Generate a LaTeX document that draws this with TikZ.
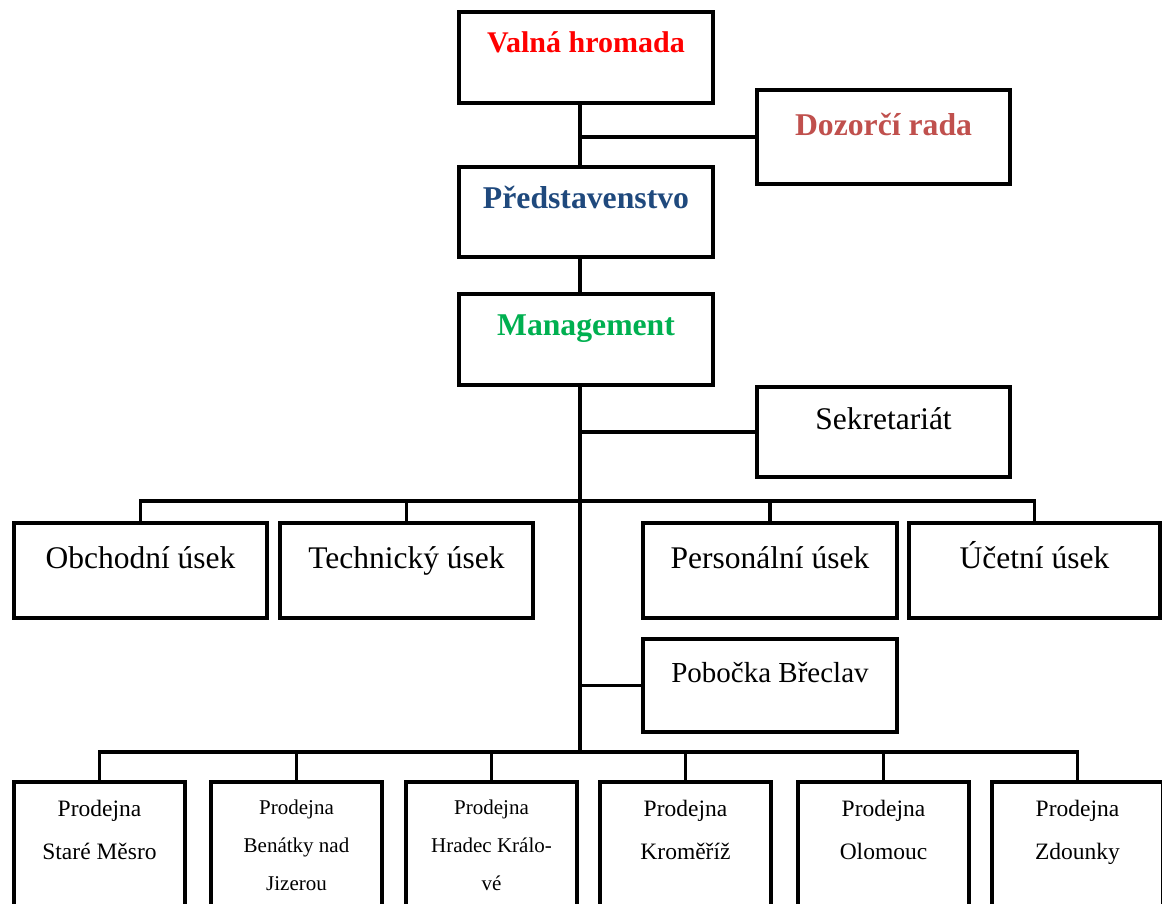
\documentclass[tikz,border=0pt]{standalone}
\usepackage{fontspec}
\setmainfont{Liberation Serif}
\definecolor{vhred}{HTML}{FF0000}
\definecolor{dzred}{HTML}{C0504D}
\definecolor{pblue}{HTML}{1F497D}
\definecolor{mgreen}{HTML}{00B050}
\begin{document}
\begin{tikzpicture}[x=1pt,y=-1pt,
  box/.style={draw, line width=4pt, rectangle, anchor=north west, inner xsep=0pt, inner ysep=0pt, align=center},
  conn/.style={line width=3.5pt},
  big/.style={font=\fontsize{31.5}{36}\selectfont},
  mid/.style={font=\fontsize{29}{34}\selectfont},
  bigb/.style={font=\fontsize{31.7}{36}\selectfont\bfseries},
  vhb/.style={font=\fontsize{30}{34}\selectfont\bfseries},
  shopa/.style={font=\fontsize{23.5}{43}\selectfont, text height=77pt, text depth=73pt},
  shopb/.style={font=\fontsize{21}{38}\selectfont, text height=108pt, text depth=42pt},
  shop/.style={box, minimum width=171pt, minimum height=150pt},
]
\clip (0,0) rectangle (1162,903);
\fill[white] (0,0) rectangle (1162,903);

% top
\node[box, vhb, text=vhred, minimum width=254pt, minimum height=91pt, text height=40pt, text depth=51pt] (vh) at (457,10) {Valná hromada};
\node[box, bigb, text=dzred, minimum width=253pt, minimum height=94pt, text height=45pt, text depth=49pt] (dz) at (755,88) {Dozorčí rada};
\node[box, bigb, text=pblue, minimum width=254pt, minimum height=90pt, text height=41pt, text depth=49pt] (pred) at (457,165) {Představenstvo};
\node[box, bigb, text=mgreen, minimum width=254pt, minimum height=91pt, text height=41pt, text depth=50pt] (mg) at (457,292) {Management};
\node[box, big, minimum width=253pt, minimum height=90pt, text height=42pt, text depth=48pt] (sek) at (755,385) {Sekretariát};

% departments
\node[box, big, minimum width=253pt, minimum height=95pt, text height=45pt, text depth=50pt] (ob) at (12,521) {Obchodní úsek};
\node[box, big, minimum width=253pt, minimum height=95pt, text height=45pt, text depth=50pt] (te) at (278,521) {Technický úsek};
\node[box, big, minimum width=254pt, minimum height=95pt, text height=45pt, text depth=50pt] (pe) at (641,521) {Personální úsek};
\node[box, big, minimum width=251pt, minimum height=95pt, text height=45pt, text depth=50pt] (uc) at (907,521) {Účetní úsek};
\node[box, mid, minimum width=254pt, minimum height=93pt, text height=43pt, text depth=50pt] (po) at (641,637) {Pobočka Břeclav};

% shops
\node[shop, shopa] (p1) at (12,780) {Prodejna\\Staré Měsro};
\node[shop, shopb] (p2) at (209,780) {Prodejna\\Benátky nad\\Jizerou};
\node[shop, shopb] (p3) at (404,780) {Prodejna\\Hradec Králo-\\vé};
\node[shop, shopa] (p4) at (598,780) {Prodejna\\Kroměříž};
\node[shop, shopa] (p5) at (796,780) {Prodejna\\Olomouc};
\node[shop, shopa] (p6) at (990,780) {Prodejna\\Zdounky};

% connectors
\coordinate (tx) at (580,0);
\coordinate (ub) at (0,501);
\coordinate (bb) at (0,752);
\draw[conn] (vh.south -| tx) -- (pred.north -| tx);
\draw[conn] (dz.west) -- (dz.west -| tx);
\draw[conn] (pred.south -| tx) -- (mg.north -| tx);
\draw[conn] (mg.south -| tx) -- (bb -| tx);
\draw[conn] (sek.west) -- (sek.west -| tx);
\draw[conn] (ob.north) -- (ob.north |- ub) -- (uc.north |- ub) -- (uc.north);
\draw[conn] (te.north) -- (te.north |- ub);
\draw[conn] (pe.north) -- (pe.north |- ub);
\draw[conn] (po.west) -- (po.west -| tx);
\draw[conn] (p1.north) -- (p1.north |- bb) -- (p6.north |- bb) -- (p6.north);
\foreach \p in {p2,p3,p4,p5} \draw[conn] (\p.north) -- (\p.north |- bb);
\end{tikzpicture}
\end{document}
